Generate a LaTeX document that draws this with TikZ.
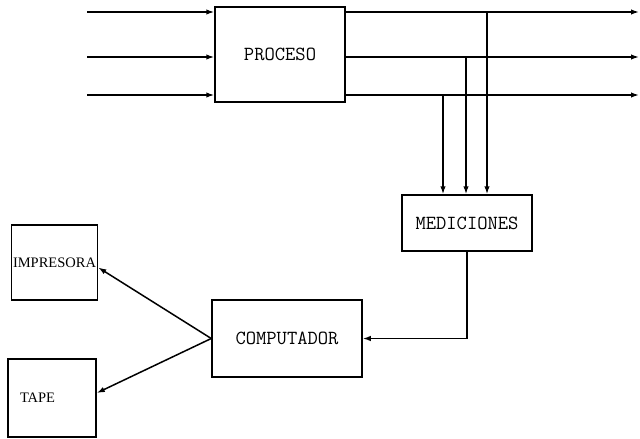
\documentclass[tikz,border=0pt]{standalone}
\usepackage{fontspec}
\newfontfamily\timesfont{Liberation Serif}
\usepackage{tikz}
\usetikzlibrary{arrows.meta,positioning,calc}

\begin{document}
\begin{tikzpicture}[x=1pt, y=-1pt, line width=1.5pt,
    >={Latex[length=8pt,width=5.5pt]},
    block/.style={draw, inner sep=0pt, font=\fontsize{20}{24}\selectfont\ttfamily},
    device/.style={draw, inner sep=0pt, font=\timesfont\fontsize{14.5}{17}\selectfont}]
  \useasboundingbox (0,0) rectangle (640,439);

  % bloques
  \node[block, minimum width=130pt, minimum height=95pt] (proceso) at (280,54.5) {PROCESO};
  \node[block, minimum width=130pt, minimum height=56pt] (medic) at (467,223) {MEDICIONES};
  \node[block, minimum width=150pt, minimum height=77pt] (comp) at (287,338.5) {COMPUTADOR};
  \node[device, minimum width=86pt, minimum height=75pt, inner xsep=0.5pt] (impr) at (54.5,262.5) {IMPRESORA};
  \node[device, minimum width=88pt, minimum height=78pt, text width=64pt,
        inner xsep=12pt, align=left] (tape) at (52,398) {TAPE};

  % entradas y salidas del proceso
  \foreach \y [count=\i] in {12,57,95} {
    \coordinate (in\i) at (87,\y);
    \coordinate (out\i) at (639,\y);
    \draw[->] (in\i) -- (in\i -| proceso.west);
    \draw[->] (proceso.east |- in\i) -- (out\i);
  }

  % derivaciones hacia mediciones
  \coordinate (tap1) at (487,12);
  \coordinate (tap2) at (466,57);
  \coordinate (tap3) at (443,95);
  \foreach \i in {1,2,3}
    \draw[->] (tap\i) -- (tap\i |- medic.north);

  \draw[->] (medic.south) |- (comp.east);
  \draw[->] (comp.west) -- ([yshift=-5pt]impr.east);
  \draw[->] (comp.west) -- ([yshift=5pt]tape.east);
\end{tikzpicture}
\end{document}
